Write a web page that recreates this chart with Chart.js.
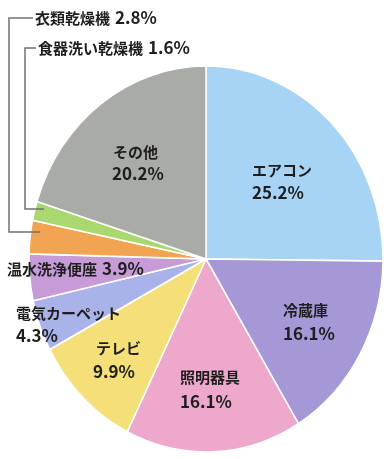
<!DOCTYPE html>
<html>
<head>
<meta charset="utf-8">
<script src="https://cdn.jsdelivr.net/npm/chart.js@4"></script>
<style>
  html, body { margin: 0; padding: 0; background: #ffffff; overflow: hidden; }
  #wrap { position: relative; width: 420px; height: 459px; }
</style>
</head>
<body>
<div id="wrap"><canvas id="c"></canvas></div>
<script>
// ---- data (clockwise from 12 o'clock) ----
const categories = ['エアコン', '冷蔵庫', '照明器具', 'テレビ', '電気カーペット', '温水洗浄便座', '衣類乾燥機', '食器洗い乾燥機', 'その他'];
const shares = [25.2, 16.1, 16.1, 9.9, 4.3, 3.9, 2.8, 1.6, 20.2];
const sliceColors = ['#a7d4f4', '#a698d6', '#eda8cc', '#f4df78', '#a9b3ea', '#c69bd8', '#f1a452', '#aad870', '#a9aba6'];

// ---- label layout (text placement only) ----
const JP_FONT = "bold 15px 'Noto Sans CJK JP', 'Noto Sans', sans-serif";
const NUM_FONT = "bold 17px 'Noto Sans CJK JP', 'Noto Sans', sans-serif";
// two-line labels: name line and value line
const twoLine = [
  { i: 0, x: 252, y1: 170, y2: 193 },
  { i: 1, x: 283, y1: 310, y2: 334 },
  { i: 2, x: 180, y1: 377, y2: 402 },
  { i: 3, x: 96,  y1: 348, y2: 372, x2: 93 },
  { i: 4, x: 16,  y1: 313, y2: 336 },
  { i: 8, x: 113, y1: 152, y2: 174, x2: 112 }
];
// single-line labels: "name value%"
const oneLine = [
  { i: 5, x: 7,  y: 269 },
  { i: 6, x: 35, y: 18 },
  { i: 7, x: 38, y: 48 }
];
// leader lines for small slices
const leaders = [
  { pts: [[33, 18], [9, 18], [9, 232], [40, 232]] },
  { pts: [[36, 48], [25, 48], [25, 209], [44, 209]] }
];

const ELLIPSE_SX = 177 / 193; // the printed pie is slightly narrower than tall

const fmt = v => v.toFixed(1) + '%';

const ellipsePlugin = {
  id: 'ellipse',
  beforeDatasetsDraw(chart) {
    const meta = chart.getDatasetMeta(0);
    const arc = meta.data[0];
    const ctx = chart.ctx;
    ctx.save();
    ctx.translate(arc.x, arc.y);
    ctx.scale(ELLIPSE_SX, 1);
    ctx.translate(-arc.x, -arc.y);
  },
  afterDatasetsDraw(chart) {
    const ctx = chart.ctx;
    ctx.restore();

    // leader lines
    ctx.save();
    ctx.strokeStyle = '#707070';
    ctx.lineWidth = 1.5;
    leaders.forEach(l => {
      ctx.beginPath();
      l.pts.forEach((p, k) => k ? ctx.lineTo(p[0], p[1]) : ctx.moveTo(p[0], p[1]));
      ctx.stroke();
    });
    ctx.restore();

    // labels
    ctx.save();
    ctx.fillStyle = '#1e1e1e';
    ctx.textBaseline = 'middle';
    ctx.textAlign = 'left';
    twoLine.forEach(l => {
      ctx.font = JP_FONT;
      ctx.fillText(categories[l.i], l.x, l.y1);
      ctx.font = NUM_FONT;
      ctx.fillText(fmt(shares[l.i]), l.x2 !== undefined ? l.x2 : l.x, l.y2);
    });
    oneLine.forEach(l => {
      ctx.font = JP_FONT;
      const name = categories[l.i];
      ctx.fillText(name, l.x, l.y);
      const w = ctx.measureText(name).width;
      ctx.font = NUM_FONT;
      ctx.fillText(fmt(shares[l.i]), l.x + w + 5, l.y);
    });
    ctx.restore();
  }
};

new Chart(document.getElementById('c'), {
  type: 'pie',
  data: {
    labels: categories,
    datasets: [{
      data: shares,
      backgroundColor: sliceColors,
      borderColor: '#ffffff',
      borderWidth: 1.6
    }]
  },
  options: {
    responsive: true,
    maintainAspectRatio: false,
    animation: false,
    radius: 193,
    layout: { padding: { left: 12, right: 20, top: 65, bottom: 6 } },
    plugins: {
      legend: { display: false },
      tooltip: { enabled: false }
    }
  },
  plugins: [ellipsePlugin]
});
</script>
</body>
</html>
